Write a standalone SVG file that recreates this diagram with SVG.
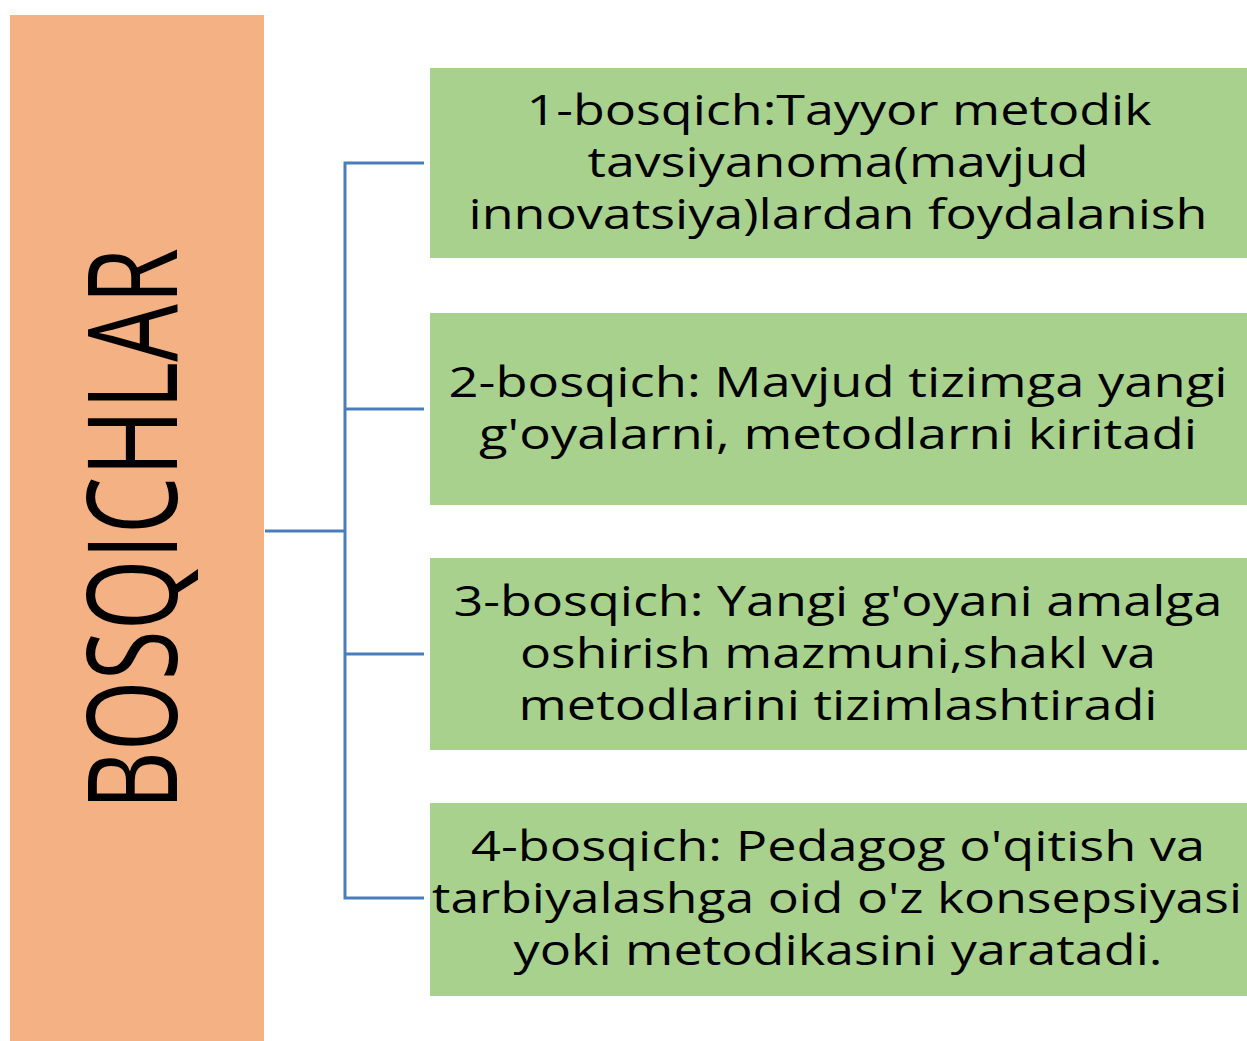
<svg xmlns="http://www.w3.org/2000/svg" width="1247" height="1041" viewBox="0 0 1247 1041">
<style>
.box{fill:#A9D18E}
.t{font-family:"Open Sans","Noto Sans","DejaVu Sans",sans-serif;font-size:42px;fill:#000;text-anchor:middle}
.c{fill:none;stroke:#4A7EBB;stroke-width:3}
</style>
<rect width="1247" height="1041" fill="#fff"/>
<g id="bosqichlar">
<rect x="10" y="15" width="254" height="1030" fill="#F4B183"/>
<text transform="translate(177,529) rotate(-90)" x="0" y="0" font-family="Open Sans, Noto Sans, sans-serif" font-size="124" text-anchor="middle" textLength="562" lengthAdjust="spacingAndGlyphs" fill="#000">BOSQICHLAR</text>
</g>
<g id="connectors">
<path class="c" d="M265,531 H345 M424,163 H345 V898 H424 M345,409 H424 M345,654 H424"/>
</g>
<g id="step1">
<rect class="box" x="430" y="68" width="817" height="190"/>
<text class="t" x="839" y="125" textLength="625" lengthAdjust="spacingAndGlyphs">1-bosqich:Tayyor metodik</text>
<text class="t" x="838" y="177" textLength="501" lengthAdjust="spacingAndGlyphs">tavsiyanoma(mavjud</text>
<text class="t" x="838" y="229" textLength="739" lengthAdjust="spacingAndGlyphs">innovatsiya)lardan foydalanish</text>
</g>
<g id="step2">
<rect class="box" x="430" y="313" width="817" height="192"/>
<text class="t" x="838" y="397" textLength="779" lengthAdjust="spacingAndGlyphs">2-bosqich: Mavjud tizimga yangi</text>
<text class="t" x="838" y="449" textLength="718" lengthAdjust="spacingAndGlyphs">g'oyalarni, metodlarni kiritadi</text>
</g>
<g id="step3">
<rect class="box" x="430" y="558" width="817" height="192"/>
<text class="t" x="838" y="616" textLength="769" lengthAdjust="spacingAndGlyphs">3-bosqich: Yangi g'oyani amalga</text>
<text class="t" x="838" y="668" textLength="636" lengthAdjust="spacingAndGlyphs">oshirish mazmuni,shakl va</text>
<text class="t" x="838" y="720" textLength="639" lengthAdjust="spacingAndGlyphs">metodlarini tizimlashtiradi</text>
</g>
<g id="step4">
<rect class="box" x="430" y="803" width="817" height="193"/>
<text class="t" x="838" y="861" textLength="734" lengthAdjust="spacingAndGlyphs">4-bosqich: Pedagog o'qitish va</text>
<text class="t" x="837" y="913" textLength="810" lengthAdjust="spacingAndGlyphs">tarbiyalashga oid o'z konsepsiyasi</text>
<text class="t" x="838" y="965" textLength="649" lengthAdjust="spacingAndGlyphs">yoki metodikasini yaratadi.</text>
</g>
</svg>
